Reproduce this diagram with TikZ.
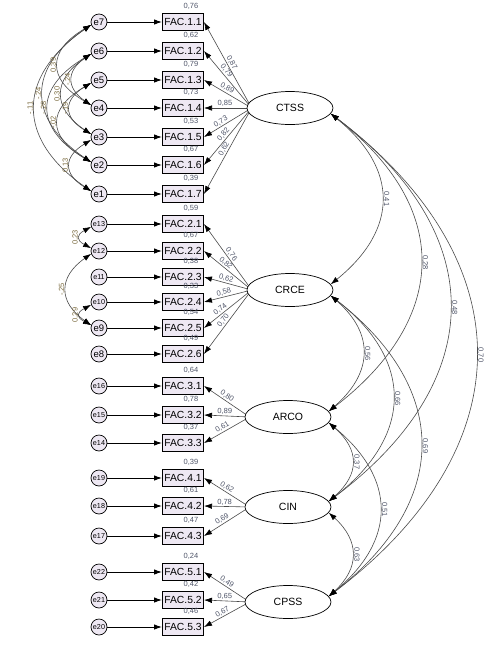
\documentclass[tikz,border=0pt]{standalone}
\usepackage{fontspec}
\setmainfont{Liberation Sans}
\usepackage{tikz}
\usetikzlibrary{positioning,arrows.meta,backgrounds,shapes.geometric}
\usepackage{xcolor}
\definecolor{boxfill}{HTML}{EEE8F3}
\definecolor{wire}{HTML}{4A4A4A}
\definecolor{numtxt}{HTML}{4E5468}
\definecolor{covtxt}{HTML}{7A6A3E}
\tikzset{obs/.style={draw=black,line width=1pt,fill=boxfill,minimum width=41pt,minimum height=17pt,inner sep=0pt,font=\fontsize{10.3}{11}\selectfont},
  err/.style={circle,draw=black,line width=0.7pt,fill=boxfill,minimum size=16pt,inner sep=0pt,font=\fontsize{9.5}{9.5}\selectfont},
  errs/.style={err,font=\fontsize{7.2}{7.2}\selectfont},
  lat/.style={ellipse,draw=black,line width=0.7pt,fill=white,minimum width=86pt,minimum height=33pt,font=\fontsize{10.5}{11}\selectfont},
  epath/.style={->,line width=0.9pt},
  load/.style={->,draw=wire,line width=0.6pt},
  cov/.style={<->,draw=wire,line width=0.6pt},
  est/.style={font=\fontsize{7.5}{8}\selectfont,text=numtxt,inner sep=1pt},
  lcov/.style={est,text=covtxt,rotate=90,anchor=south},
  rcov/.style={est,rotate=-90,anchor=south}}

\begin{document}
\begin{tikzpicture}[x=1pt,y=-1pt,>={Latex[length=8pt,width=5.5pt,color=black]}]
  \useasboundingbox (0,0) rectangle (501,649);
  % latent factors
  \node[lat] (ctss) at (290,108) {CTSS};
  \node[lat] (crce) at (290,290) {CRCE};
  \node[lat] (arco) at (288,417) {ARCO};
  \node[lat] (cin) at (288,507) {CIN};
  \node[lat] (cpss) at (288,602) {CPSS};
  % items and errors
  \node[err] (e7) at (99,22) {e7}; \node[obs] (f11) at (183,22) {FAC.1.1};
  \node[err] (e6) at (99,51) {e6}; \node[obs] (f12) at (183,51) {FAC.1.2};
  \node[err] (e5) at (99,80) {e5}; \node[obs] (f13) at (183,80) {FAC.1.3};
  \node[err] (e4) at (99,108) {e4}; \node[obs] (f14) at (183,108) {FAC.1.4};
  \node[err] (e3) at (99,137) {e3}; \node[obs] (f15) at (183,137) {FAC.1.5};
  \node[err] (e2) at (99,165) {e2}; \node[obs] (f16) at (183,165) {FAC.1.6};
  \node[err] (e1) at (99,194) {e1}; \node[obs] (f17) at (183,194) {FAC.1.7};
  \node[errs] (e13) at (99,224) {e13}; \node[obs] (f21) at (183,224) {FAC.2.1};
  \node[errs] (e12) at (99,251) {e12}; \node[obs] (f22) at (183,251) {FAC.2.2};
  \node[errs] (e11) at (99,277) {e11}; \node[obs] (f23) at (183,277) {FAC.2.3};
  \node[errs] (e10) at (99,302) {e10}; \node[obs] (f24) at (183,302) {FAC.2.4};
  \node[err] (e9) at (99,328) {e9}; \node[obs] (f25) at (183,328) {FAC.2.5};
  \node[err] (e8) at (99,354) {e8}; \node[obs] (f26) at (183,354) {FAC.2.6};
  \node[errs] (e16) at (99,386) {e16}; \node[obs] (f31) at (183,386) {FAC.3.1};
  \node[errs] (e15) at (99,415) {e15}; \node[obs] (f32) at (183,415) {FAC.3.2};
  \node[errs] (e14) at (99,443) {e14}; \node[obs] (f33) at (183,443) {FAC.3.3};
  \node[errs] (e19) at (99,478) {e19}; \node[obs] (f41) at (183,478) {FAC.4.1};
  \node[errs] (e18) at (99,506) {e18}; \node[obs] (f42) at (183,506) {FAC.4.2};
  \node[errs] (e17) at (99,536) {e17}; \node[obs] (f43) at (183,536) {FAC.4.3};
  \node[errs] (e22) at (99,572) {e22}; \node[obs] (f51) at (183,572) {FAC.5.1};
  \node[errs] (e21) at (99,600) {e21}; \node[obs] (f52) at (183,600) {FAC.5.2};
  \node[errs] (e20) at (99,627) {e20}; \node[obs] (f53) at (183,627) {FAC.5.3};
  \draw[epath] (e7)--(f11); \draw[epath] (e6)--(f12); \draw[epath] (e5)--(f13); \draw[epath] (e4)--(f14);
  \draw[epath] (e3)--(f15); \draw[epath] (e2)--(f16); \draw[epath] (e1)--(f17);
  \draw[epath] (e13)--(f21); \draw[epath] (e12)--(f22); \draw[epath] (e11)--(f23);
  \draw[epath] (e10)--(f24); \draw[epath] (e9)--(f25); \draw[epath] (e8)--(f26);
  \draw[epath] (e16)--(f31); \draw[epath] (e15)--(f32); \draw[epath] (e14)--(f33);
  \draw[epath] (e19)--(f41); \draw[epath] (e18)--(f42); \draw[epath] (e17)--(f43);
  \draw[epath] (e22)--(f51); \draw[epath] (e21)--(f52); \draw[epath] (e20)--(f53);
  % squared multiple correlations
  \node[est,anchor=south] (r11) at ([xshift=8pt,yshift=2pt]f11.north) {0,76};
  \node[est,anchor=south] (r12) at ([xshift=8pt,yshift=2pt]f12.north) {0,62};
  \node[est,anchor=south] (r13) at ([xshift=8pt,yshift=2pt]f13.north) {0,79};
  \node[est,anchor=south] (r14) at ([xshift=8pt,yshift=2pt]f14.north) {0,73};
  \node[est,anchor=south] (r15) at ([xshift=8pt,yshift=2pt]f15.north) {0,53};
  \node[est,anchor=south] (r16) at ([xshift=8pt,yshift=2pt]f16.north) {0,67};
  \node[est,anchor=south] (r17) at ([xshift=8pt,yshift=2pt]f17.north) {0,39};
  \node[est,anchor=south] (r21) at ([xshift=8pt,yshift=2pt]f21.north) {0,59};
  \node[est,anchor=south] (r22) at ([xshift=8pt,yshift=2pt]f22.north) {0,67};
  \node[est,anchor=south] (r23) at ([xshift=8pt,yshift=2pt]f23.north) {0,38};
  \node[est,anchor=south] (r24) at ([xshift=8pt,yshift=2pt]f24.north) {0,33};
  \node[est,anchor=south] (r25) at ([xshift=8pt,yshift=2pt]f25.north) {0,54};
  \node[est,anchor=south] (r26) at ([xshift=8pt,yshift=2pt]f26.north) {0,49};
  \node[est,anchor=south] (r31) at ([xshift=8pt,yshift=2pt]f31.north) {0,64};
  \node[est,anchor=south] (r32) at ([xshift=8pt,yshift=2pt]f32.north) {0,78};
  \node[est,anchor=south] (r33) at ([xshift=8pt,yshift=2pt]f33.north) {0,37};
  \node[est,anchor=south] (r41) at ([xshift=8pt,yshift=2pt]f41.north) {0,39};
  \node[est,anchor=south] (r42) at ([xshift=8pt,yshift=2pt]f42.north) {0,61};
  \node[est,anchor=south] (r43) at ([xshift=8pt,yshift=2pt]f43.north) {0,47};
  \node[est,anchor=south] (r51) at ([xshift=8pt,yshift=2pt]f51.north) {0,24};
  \node[est,anchor=south] (r52) at ([xshift=8pt,yshift=2pt]f52.north) {0,42};
  \node[est,anchor=south] (r53) at ([xshift=8pt,yshift=2pt]f53.north) {0,46};
  % loadings
  \begin{scope}[on background layer]
    \draw[load] ([xshift=5pt]ctss.west) -- (f11.east) node[est,pos=.5,sloped,above]{0,87};
    \draw[load] ([xshift=5pt]ctss.west) -- (f12.east) node[est,pos=.6,sloped,above]{0,79};
    \draw[load] ([xshift=5pt]ctss.west) -- (f13.east) node[est,pos=.56,sloped,above]{0,89};
    \draw[load] ([xshift=5pt]ctss.west) -- (f14.east) node[est,pos=.56,sloped,above]{0,85};
    \draw[load] ([xshift=5pt]ctss.west) -- (f15.east) node[est,pos=.6,sloped,above]{0,73};
    \draw[load] ([xshift=5pt]ctss.west) -- (f16.east) node[est,pos=.52,sloped,above]{0,82};
    \draw[load] ([xshift=5pt]ctss.west) -- (f17.east) node[est,pos=.5,sloped,above]{0,62};
    \draw[load] ([xshift=5pt]crce.west) -- (f21.east) node[est,pos=.5,sloped,above]{0,76};
    \draw[load] ([xshift=5pt]crce.west) -- (f22.east) node[est,pos=.6,sloped,above]{0,82};
    \draw[load] ([xshift=5pt]crce.west) -- (f23.east) node[est,pos=.56,sloped,above]{0,62};
    \draw[load] ([xshift=5pt]crce.west) -- (f24.east) node[est,pos=.56,sloped,above]{0,58};
    \draw[load] ([xshift=5pt]crce.west) -- (f25.east) node[est,pos=.6,sloped,above]{0,74};
    \draw[load] ([xshift=5pt]crce.west) -- (f26.east) node[est,pos=.52,sloped,above]{0,70};
    \draw[load] ([xshift=5pt]arco.west) -- (f31.east) node[est,pos=.55,sloped,above]{0,80};
    \draw[load] ([xshift=5pt]arco.west) -- (f32.east) node[est,pos=.55,sloped,above]{0,89};
    \draw[load] ([xshift=5pt]arco.west) -- (f33.east) node[est,pos=.55,sloped,above]{0,61};
    \draw[load] ([xshift=5pt]cin.west) -- (f41.east) node[est,pos=.55,sloped,above]{0,62};
    \draw[load] ([xshift=5pt]cin.west) -- (f42.east) node[est,pos=.55,sloped,above]{0,78};
    \draw[load] ([xshift=5pt]cin.west) -- (f43.east) node[est,pos=.55,sloped,above]{0,69};
    \draw[load] ([xshift=5pt]cpss.west) -- (f51.east) node[est,pos=.55,sloped,above]{0,49};
    \draw[load] ([xshift=5pt]cpss.west) -- (f52.east) node[est,pos=.55,sloped,above]{0,65};
    \draw[load] ([xshift=5pt]cpss.west) -- (f53.east) node[est,pos=.55,sloped,above]{0,67};
  \end{scope}
  % error covariances
  \draw[cov] (e7.200) .. controls +(-75,52) and +(-75,-52) .. (e1.160) node[lcov,pos=.5]{-,11};
  \draw[cov] (e7.200) .. controls +(-64,43) and +(-64,-43) .. (e2.160) node[lcov,pos=.5]{-,24};
  \draw[cov] (e6.200) .. controls +(-57,34) and +(-57,-34) .. (e2.160) node[lcov,pos=.5]{-,28};
  \draw[cov] (e7.200) .. controls +(-44,26) and +(-44,-26) .. (e4.160) node[lcov,pos=.5]{0,39};
  \draw[cov] (e6.200) .. controls +(-39,26) and +(-39,-26) .. (e3.160) node[lcov,pos=.5]{0,30};
  \draw[cov] (e5.200) .. controls +(-44,26) and +(-44,-26) .. (e2.160) node[lcov,pos=.5]{-,02};
  \draw[cov] (e5.200) .. controls +(-28,17) and +(-28,-17) .. (e3.160) node[lcov,pos=.5]{-,19};
  \draw[cov] (e6.200) .. controls +(-25,17) and +(-25,-17) .. (e4.160) node[lcov,pos=.5]{-,24};
  \draw[cov] (e3.200) .. controls +(-28,17) and +(-28,-17) .. (e1.160) node[lcov,pos=.5]{0,13};
  \draw[cov] (e13.200) .. controls +(-15,8) and +(-15,-8) .. (e12.160) node[lcov,pos=.5]{0,23};
  \draw[cov] (e12.200) .. controls +(-33,23) and +(-33,-23) .. (e9.160) node[lcov,pos=.5]{-,25};
  \draw[cov] (e10.200) .. controls +(-15,8) and +(-15,-8) .. (e9.160) node[lcov,pos=.5]{0,29};
  % factor covariances
  \draw[cov] (ctss.-8) .. controls +(68,55) and +(68,-55) .. (crce.8) node[rcov,pos=.5]{0,41};
  \draw[cov] (ctss.-8) .. controls +(121,93) and +(121,-93) .. (arco.8) node[rcov,pos=.5]{0,28};
  \draw[cov] (ctss.-8) .. controls +(160,120) and +(160,-120) .. (cin.8) node[rcov,pos=.5]{0,48};
  \draw[cov] (ctss.-8) .. controls +(195,148) and +(195,-148) .. (cpss.8) node[rcov,pos=.5]{0,70};
  \draw[cov] (crce.-8) .. controls +(44,38) and +(44,-38) .. (arco.8) node[rcov,pos=.5]{0,56};
  \draw[cov] (crce.-8) .. controls +(84,65) and +(84,-65) .. (cin.8) node[rcov,pos=.5]{0,66};
  \draw[cov] (crce.-8) .. controls +(121,94) and +(121,-94) .. (cpss.8) node[rcov,pos=.5]{0,69};
  \draw[cov] (arco.-8) .. controls +(31,27) and +(31,-27) .. (cin.8) node[rcov,pos=.5]{0,37};
  \draw[cov] (arco.-8) .. controls +(68,56) and +(68,-56) .. (cpss.8) node[rcov,pos=.5]{0,51};
  \draw[cov] (cin.-8) .. controls +(31,28) and +(31,-28) .. (cpss.8) node[rcov,pos=.5]{0,63};
\end{tikzpicture}
\end{document}
